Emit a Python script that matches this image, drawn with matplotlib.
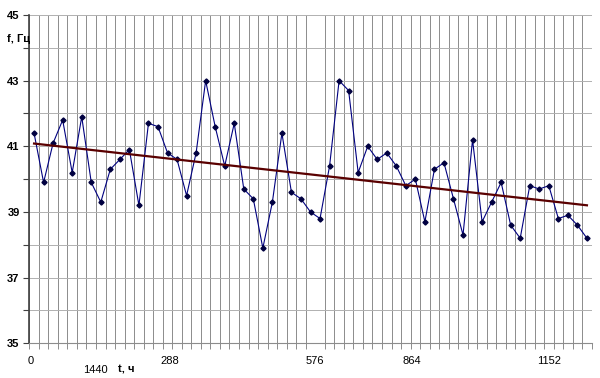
import numpy as np
import matplotlib
matplotlib.use("Agg")
import matplotlib.pyplot as plt

# frequency readings, one per category (step of one day)
freq = [41.4, 39.9, 41.1, 41.8, 40.2, 41.9, 39.9, 39.3, 40.3, 40.6,
        40.9, 39.2, 41.7, 41.6, 40.8, 40.6, 39.5, 40.8, 43.0, 41.6,
        40.4, 41.7, 39.7, 39.4, 37.9, 39.3, 41.4, 39.6, 39.4, 39.0,
        38.8, 40.4, 43.0, 42.7, 40.2, 41.0, 40.6, 40.8, 40.4, 39.8,
        40.0, 38.7, 40.3, 40.5, 39.4, 38.3, 41.2, 38.7, 39.3, 39.9,
        38.6, 38.2, 39.8, 39.7, 39.8, 38.8, 38.9, 38.6, 38.2]
x_labels = ['0', '288', '576', '864', '1152']
y_ticks = list(range(35, 46))
y_labels = ['35', '', '37', '', '39', '', '41', '', '43', '', '45']

plt.rcParams['font.family'] = ['Liberation Sans', 'DejaVu Sans']

fig = plt.figure(figsize=(6, 3.78), dpi=100)
ax = fig.add_axes([29.3 / 600, 1 - 343.3 / 378, 562.4 / 600, 328.3 / 378])

n = len(freq)
idx = np.arange(n)

ax.plot(idx, freq, color='#000080', lw=0.8, marker='D', ms=2.6,
        mfc='#000040', mec='#000040', zorder=3)

# linear trend
k, b = np.polyfit(idx, freq, 1)
ax.plot(idx, k * idx + b, color='#5a0000', lw=1.6, zorder=4)

ax.set_xlim(-0.5, n - 0.5)
ax.set_ylim(35, 45)

# vertical gridlines at category boundaries
ax.set_xticks(np.arange(n + 1) - 0.5, minor=True)
ax.grid(which='minor', axis='x', color='#8c8c8c', lw=0.7)
ax.tick_params(axis='x', which='minor', length=4, direction='out', color='#8c8c8c', width=0.7)

# labels (positions)
ax.set_xticks([-0.4, 14.2, 29.5, 39.6, 54.0])
ax.set_xticklabels(x_labels, fontsize=8)
ax.tick_params(axis='x', which='major', length=0, pad=9)

ax.set_yticks(y_ticks)
ax.set_yticklabels(y_labels, fontsize=8, fontweight='bold')
ax.tick_params(axis='y', length=4, direction='out', color='#404040', pad=3)
ax.grid(which='major', axis='y', color='#b0b0b0', lw=0.7)

for s in ['top', 'right']:
    ax.spines[s].set_visible(False)
ax.spines['left'].set_color('#404040')
ax.spines['left'].set_linewidth(1.2)
ax.spines['bottom'].set_color('#8c8c8c')
ax.set_axisbelow(True)

fig.text(7 / 600, 1 - 39 / 378, 'f, Гц', fontsize=8, fontweight='bold', va='center')
fig.text(95 / 600, 1 - 370 / 378, '1440', fontsize=8, ha='center', va='center')
fig.text(118 / 600, 1 - 370 / 378, 't, ч', fontsize=8, fontweight='bold', va='center')

plt.savefig('out.png', dpi=100)
